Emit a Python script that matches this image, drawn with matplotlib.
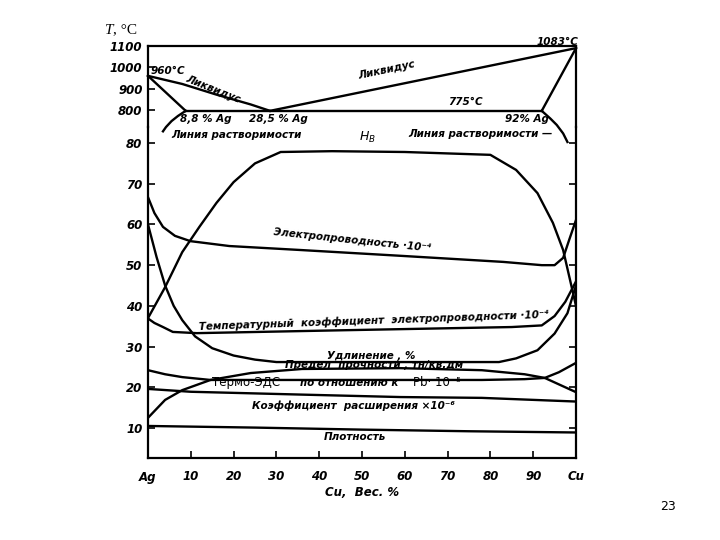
import numpy as np
import matplotlib.pyplot as plt

# состав, вес. % Cu
# --- диаграмма состояния (верхняя часть), T в °C
liq_left_cu = [0, 8, 16, 24, 28.5]
liq_left_t = [960, 922, 872, 826, 796]
liq_right_cu = [28.5, 100]
liq_right_t = [796, 1090]
sol_left_cu = [0, 8.8]
sol_left_t = [960, 796]
sol_right_cu = [92, 100]
sol_right_t = [796, 1090]
eut_cu = [8.8, 92]
eut_t = [796, 796]
solv_left_cu = [8.8, 7.0, 5.5, 4.2, 3.5]
solv_left_t = [796, 772, 748, 720, 700]
solv_right_cu = [92, 94, 95.5, 97, 98]
solv_right_t = [796, 760, 730, 690, 650]

# --- свойства (нижняя часть)
hb_cu = [0, 4, 8, 12, 16, 20, 25, 31, 43, 60, 80, 86, 91, 94.6, 97, 98.6, 100]
hb = [37, 44.6, 53.2, 59.4, 65.3, 70.4, 75, 77.8, 78.0, 77.8, 77.1, 73.4, 67.7, 60.4, 53.7, 46.4, 40]

el_cu = [0, 1.5, 3.5, 6.3, 9.9, 19, 36, 59, 83, 92, 95, 97, 98.4, 100]
el = [66.7, 62.8, 59.4, 57.2, 55.9, 54.7, 53.7, 52.3, 50.8, 50.0, 50.0, 51.8, 56.2, 61.1]

tc_cu = [0, 1.5, 3.5, 5.8, 11.4, 45, 85, 92, 95, 97.5, 100]
tc = [36.9, 35.8, 34.8, 33.6, 33.3, 34.0, 34.8, 35.2, 37.5, 41, 46]

elong_cu = [0, 2, 4, 6, 8, 11, 15, 20, 25, 30, 50, 82, 86, 91, 95, 98, 100]
elong = [60, 52, 45, 40, 36.5, 32.5, 29.6, 27.8, 26.8, 26.2, 26.2, 26.2, 27.1, 29.1, 33.2, 38.2, 45]

ts_cu = [0, 4, 8, 14.6, 24, 36, 59, 78, 88, 92.7, 100]
ts = [12.5, 16.9, 19.3, 21.8, 23.5, 24.5, 24.7, 24.2, 23.2, 22.3, 18.8]

emf_cu = [0, 4, 8, 14.6, 30, 78, 88, 92.7, 96, 100]
emf = [24.2, 23.2, 22.5, 21.8, 21.8, 21.8, 22.0, 22.3, 23.7, 26]

exp_cu = [0, 10, 36, 59, 78, 100]
expn = [19.6, 18.9, 18.2, 17.6, 17.4, 16.5]

dens_cu = [0, 25, 50, 75, 100]
dens = [10.5, 10.1, 9.6, 9.2, 8.9]

x_ticks = [0, 10, 20, 30, 40, 50, 60, 70, 80, 90, 100]
x_labels = ['Ag', '10', '20', '30', '40', '50', '60', '70', '80', '90', 'Cu']
y_ticks = [10, 20, 30, 40, 50, 60, 70, 80]
t_ticks = [800, 900, 1000, 1100]

W, H = 720, 540


def box(x0, y0, x1, y1):
    return [x0 / W, 1 - y1 / H, (x1 - x0) / W, (y1 - y0) / H]


lab = dict(family='DejaVu Sans', style='italic', weight='bold', size=8.5)
txt = dict(family='DejaVu Sans', style='italic', weight='bold', size=7.5)
lw = 1.7

fig = plt.figure(figsize=(7.2, 5.4), dpi=100)
ax = fig.add_axes(box(148, 127, 576, 458))
axT = fig.add_axes(box(148, 46, 576, 127))
axT.patch.set_alpha(0)

# нижняя часть
for xs, ys in [(hb_cu, hb), (el_cu, el), (tc_cu, tc), (elong_cu, elong),
               (ts_cu, ts), (emf_cu, emf), (exp_cu, expn), (dens_cu, dens)]:
    ax.plot(xs, ys, color='black', lw=lw)

ax.set_xlim(0, 100)
ax.set_ylim(2.63, 83.94)
ax.set_xticks(x_ticks)
ax.set_xticklabels(x_labels, fontdict=lab)
ax.set_yticks(y_ticks)
ax.set_yticklabels([str(v) for v in y_ticks], fontdict=lab)
ax.tick_params(direction='in', length=5, width=1.2, right=True, pad=4)
ax.tick_params(axis='x', pad=9)
ax.spines['top'].set_visible(False)
for s in ['left', 'right', 'bottom']:
    ax.spines[s].set_linewidth(1.6)
ax.set_xlabel('Cu,  Вес. %', fontdict=lab, labelpad=2)

ax.text(51.2, 79.6, '$H_B$', ha='center', va='bottom', fontsize=9, style='italic')
ax.text(47.7, 56.0, 'Электропроводность ·10⁻⁴', ha='center', va='center', rotation=-6, **txt)
ax.text(52.8, 36.4, 'Температурный  коэффициент  электропроводности ·10⁻⁴',
        ha='center', va='center', rotation=2, **txt)
ax.text(52.1, 27.8, 'Удлинение , %', ha='center', va='center', **txt)
ax.text(52.8, 25.4, 'Предел  прочности , тн/кв.дм', ha='center', va='center', **txt)
ax.text(15, 21.1, 'Термо-ЭДС', ha='left', va='center', family='DejaVu Sans', size=8.5)
ax.text(47, 21.1, 'по отношению к', ha='center', va='center', **txt)
ax.text(67.5, 21.1, 'Pb· 10⁻⁵', ha='center', va='center', family='DejaVu Sans', size=8.5)
ax.text(47.9, 15.4, 'Коэффициент  расширения ×10⁻⁶', ha='center', va='center', **txt)
ax.text(48.4, 7.8, 'Плотность', ha='center', va='center', **txt)

# верхняя часть
for xs, ys in [(liq_left_cu, liq_left_t), (liq_right_cu, liq_right_t),
               (sol_left_cu, sol_left_t), (sol_right_cu, sol_right_t),
               (eut_cu, eut_t), (solv_left_cu, solv_left_t), (solv_right_cu, solv_right_t)]:
    axT.plot(xs, ys, color='black', lw=lw, clip_on=False)

axT.set_xlim(0, 100)
axT.set_ylim(720.3, 1100)
axT.set_xticks([])
axT.set_yticks(t_ticks)
axT.set_yticklabels([str(v) for v in t_ticks], fontdict=lab)
axT.tick_params(direction='in', length=5, width=1.2, pad=4)
axT.spines['bottom'].set_visible(False)
for s in ['left', 'right', 'top']:
    axT.spines[s].set_linewidth(1.6)

axT.text(0.5, 983, '960°C', ha='left', va='center', **txt)
axT.text(15.2, 896, 'Ликвидус', ha='center', va='center', rotation=-22, **txt)
axT.text(13.6, 758, '8,8 % Ag', ha='center', va='center', **txt)
axT.text(30.4, 758, '28,5 % Ag', ha='center', va='center', **txt)
axT.text(20.6, 683, 'Линия растворимости', ha='center', va='center', **txt)
axT.text(55.8, 985, 'Ликвидус', ha='center', va='center', rotation=12, **txt)
axT.text(95.6, 1120, '1083°C', ha='center', va='center', **txt)
axT.text(74.1, 837, '775°C', ha='center', va='center', **txt)
axT.text(88.6, 758, '92% Ag', ha='center', va='center', **txt)
axT.text(77.6, 687, 'Линия растворимости —', ha='center', va='center', **txt)

fig.text(105 / W, 1 - 30 / H, 'T', ha='left', va='center', family='Liberation Serif',
         style='italic', size=11)
fig.text(113 / W, 1 - 30 / H, ', °C', ha='left', va='center', family='Liberation Serif', size=11)
fig.text(668 / W, 1 - 507 / H, '23', ha='center', va='center', family='DejaVu Sans', size=9)

fig.savefig('out.png', dpi=100)
